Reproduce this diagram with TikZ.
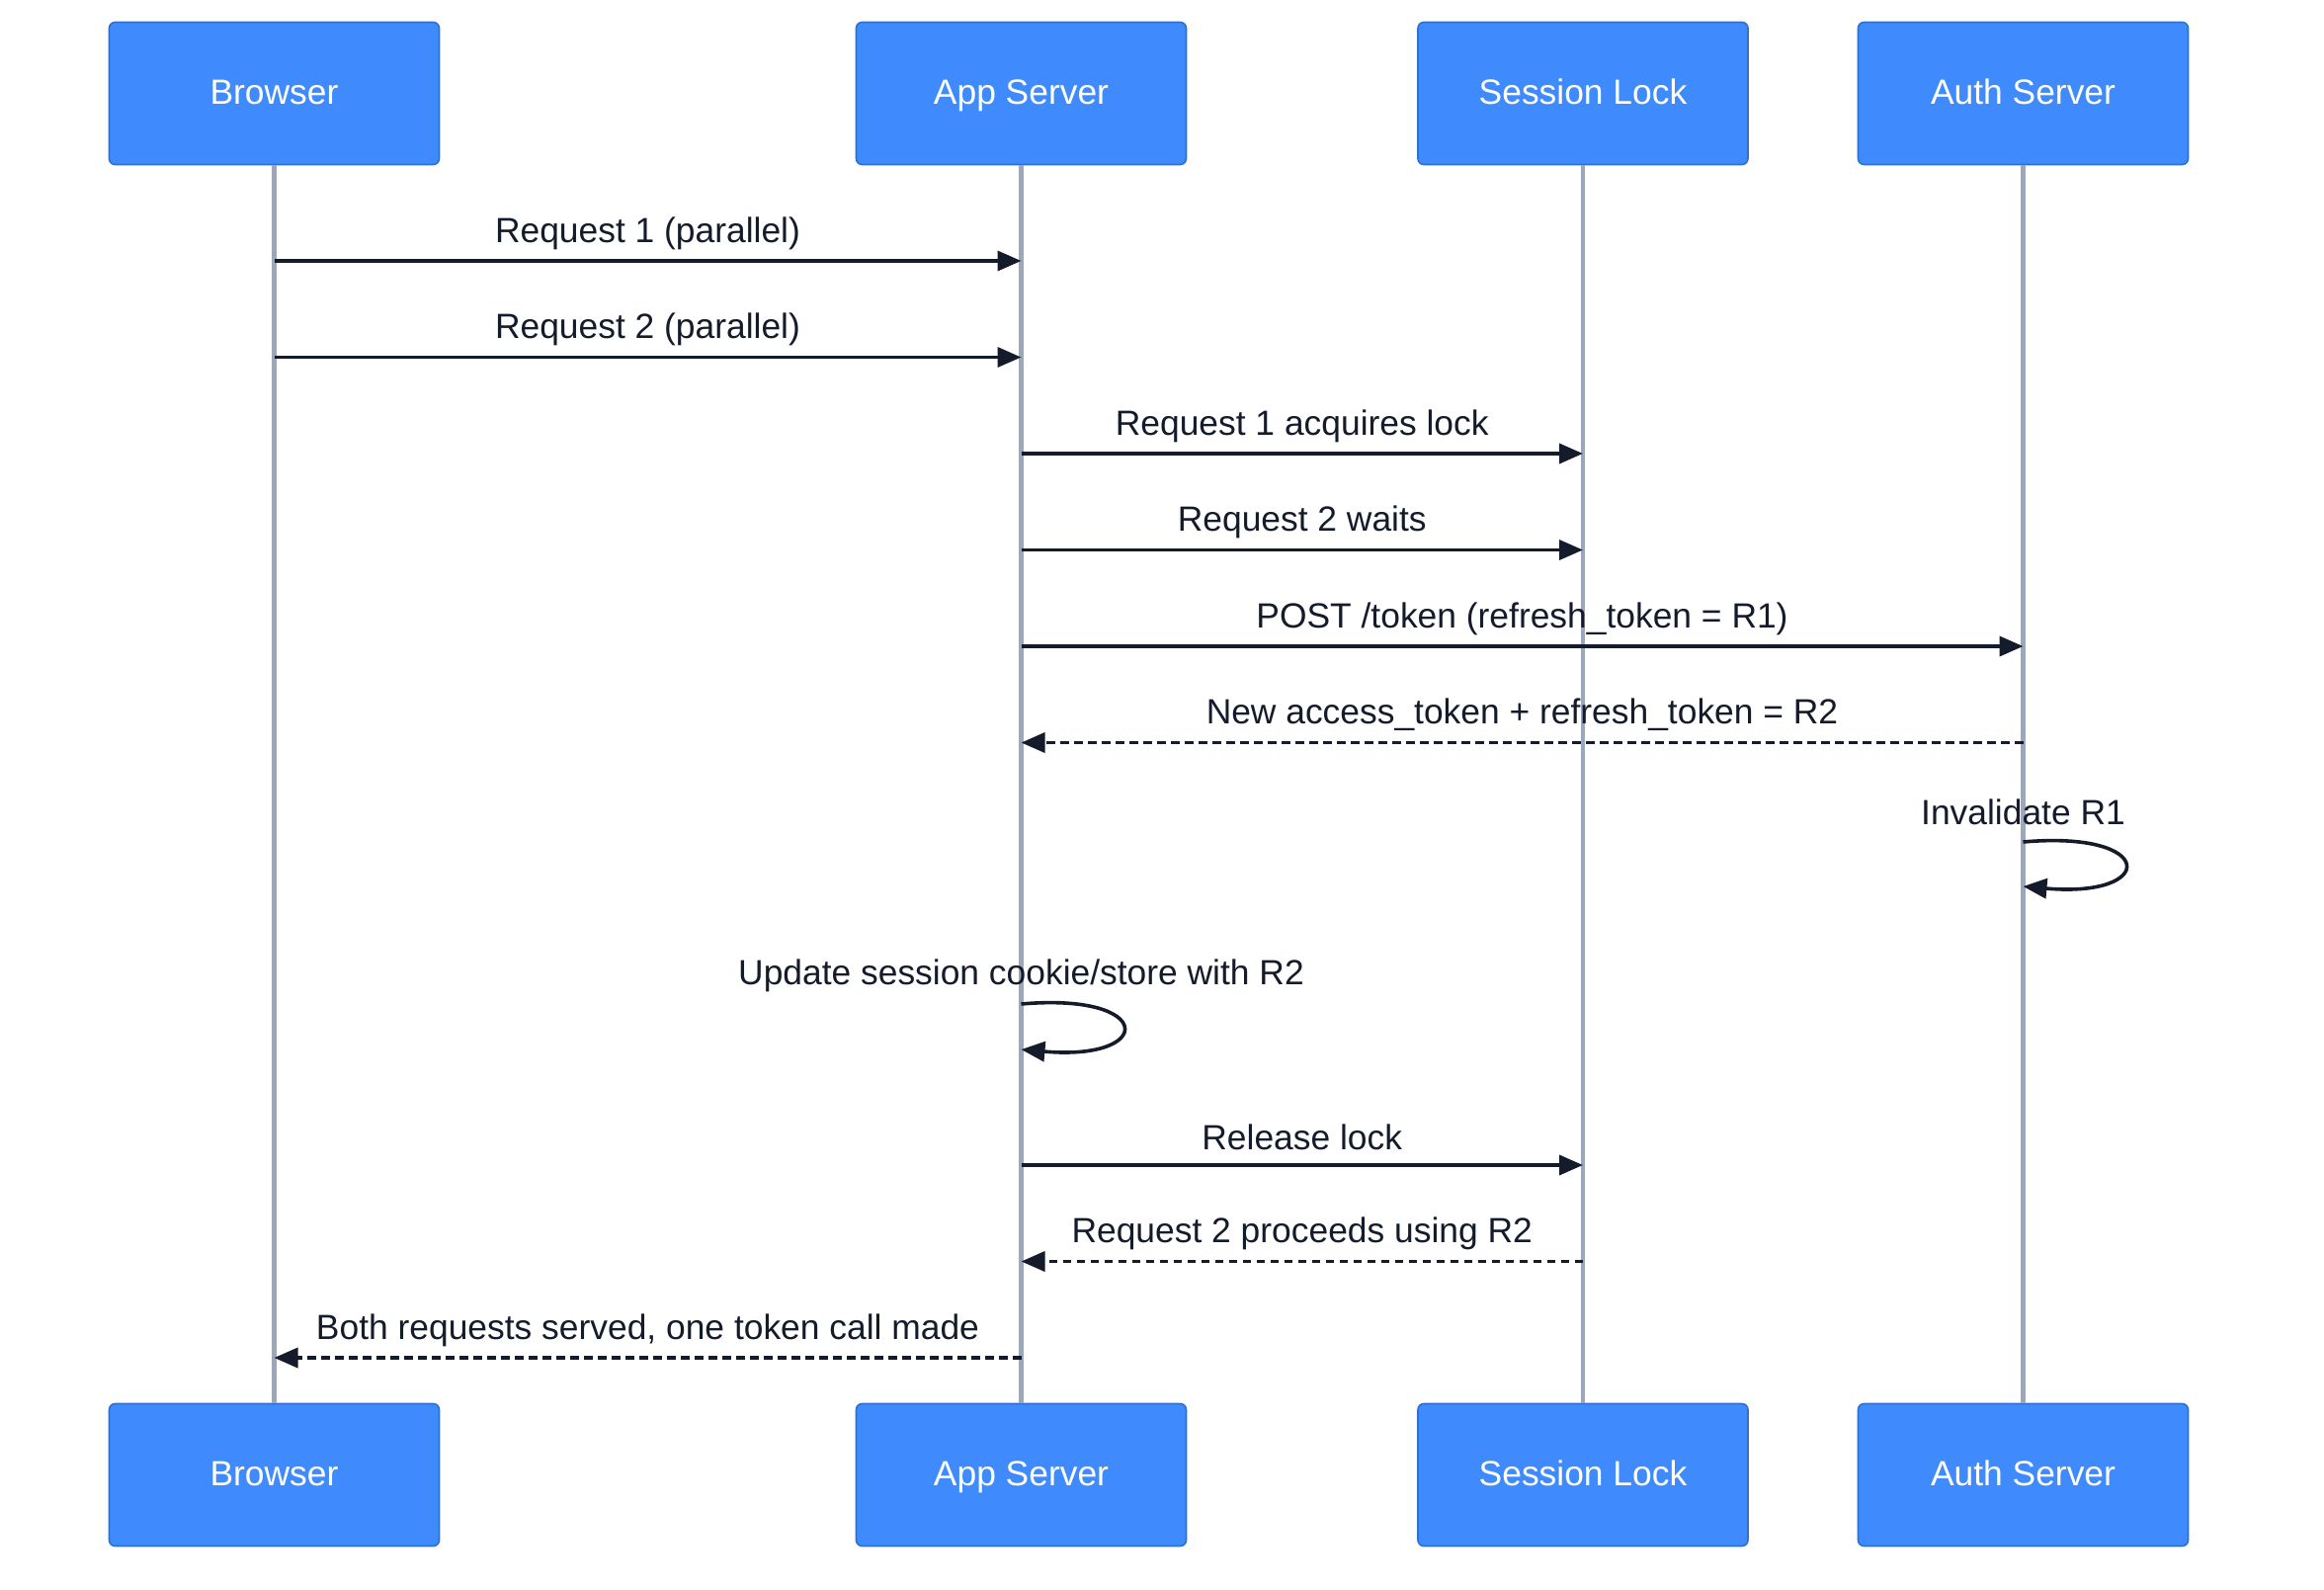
\documentclass[tikz,border=0pt]{standalone}
\usepackage{fontspec}
\setmainfont{Liberation Sans}
\usetikzlibrary{arrows.meta,positioning}
\definecolor{actorblue}{HTML}{3F8BFD}
\definecolor{actoredge}{HTML}{2F6FD0}
\definecolor{lifegray}{HTML}{9BA7BC}
\definecolor{inkdark}{HTML}{141B2B}
\tikzset{
  actor/.style={
    draw=actoredge,
    line width=0.8pt,
    rounded corners=3pt,
    fill=actorblue,
    text=white,
    minimum width=167pt,
    minimum height=72pt,
    text height=13.5pt,
    text depth=2.4pt,
    font=\fontsize{17.7pt}{21pt}\selectfont
  },
  lifeline/.style={
    draw=lifegray,
    line width=2.1pt
  },
  msg/.style={
    draw=inkdark,
    line width=1.8pt,
    -{Triangle[length=12pt,width=10pt]}
  },
  reply/.style={
    msg,
    dash pattern=on 4.2pt off 2.8pt
  },
  msglabel/.style={
    text=inkdark,
    inner sep=0pt,
    font=\fontsize{17.7pt}{21pt}\selectfont,
    yshift=14pt
  }
}
\begin{document}
\begin{tikzpicture}[x=0.5pt,y=-0.5pt]
  \useasboundingbox (0,0) rectangle (2352,1608);

  % participants, top and bottom
  \node[actor] (browserT) at (277.5,94.5) {Browser};
  \node[actor] (appT) at (1033.5,94.5) {App Server};
  \node[actor] (lockT) at (1602,94.5) {Session Lock};
  \node[actor] (authT) at (2047.5,94.5) {Auth Server};
  \node[actor] (browserB) at (277.5,1492.5) {Browser};
  \node[actor] (appB) at (1033.5,1492.5) {App Server};
  \node[actor] (lockB) at (1602,1492.5) {Session Lock};
  \node[actor] (authB) at (2047.5,1492.5) {Auth Server};

  \draw[lifeline] (browserT) -- (browserB);
  \draw[lifeline] (appT) -- (appB);
  \draw[lifeline] (lockT) -- (lockB);
  \draw[lifeline] (authT) -- (authB);

  % message rows
  \foreach \n/\y in {1/264,2/361.5,3/459,4/556.5,5/654,6/751.5,7/852,7e/897,8/1016,8e/1062,9/1179,10/1276.5,11/1374}
    \coordinate (r\n) at (0,\y);

  \draw[msg] (browserT |- r1) -- node[msglabel] (m1) {Request 1 (parallel)} (appT |- r1);
  \draw[msg] (browserT |- r2) -- node[msglabel] (m2) {Request 2 (parallel)} (appT |- r2);
  \draw[msg] (appT |- r3) -- node[msglabel] (m3) {Request 1 acquires lock} (lockT |- r3);
  \draw[msg] (appT |- r4) -- node[msglabel] (m4) {Request 2 waits} (lockT |- r4);
  \draw[msg] (appT |- r5) -- node[msglabel] (m5) {POST /token (refresh\_token = R1)} (authT |- r5);
  \draw[reply] (authT |- r6) -- node[msglabel] (m6) {New access\_token + refresh\_token = R2} (appT |- r6);

  \node[msglabel, yshift=1pt] (m7) at (authT |- r7) {Invalidate R1};
  \draw[msg] (authT |- r7) .. controls +(136,-12) and +(136,12) .. (authT |- r7e);

  \node[msglabel, yshift=0.5pt] (m8) at (appT |- r8) {Update session cookie/store with R2};
  \draw[msg] (appT |- r8) .. controls +(136,-12) and +(136,12) .. (appT |- r8e);

  \draw[msg] (appT |- r9) -- node[msglabel] (m9) {Release lock} (lockT |- r9);
  \draw[reply] (lockT |- r10) -- node[msglabel] (m10) {Request 2 proceeds using R2} (appT |- r10);
  \draw[reply] (appT |- r11) -- node[msglabel] (m11) {Both requests served, one token call made} (browserT |- r11);
\end{tikzpicture}
\end{document}
